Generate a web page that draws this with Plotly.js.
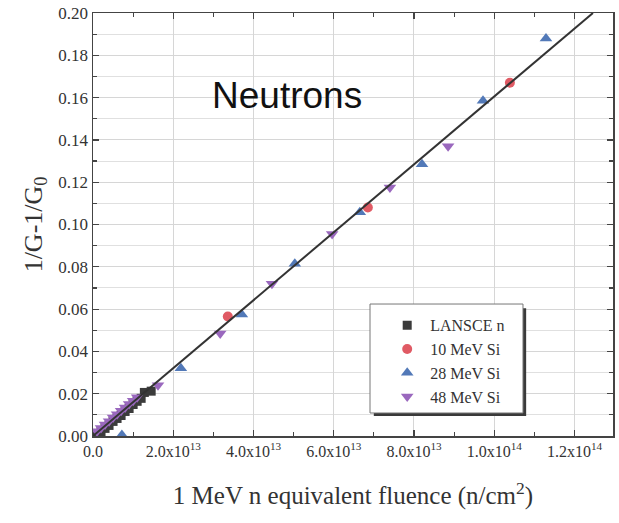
<!DOCTYPE html>
<html>
<head>
<meta charset="utf-8">
<script src="https://cdn.plot.ly/plotly-3.0.1.min.js"></script>
<style>html,body{margin:0;padding:0;background:#fff}</style>
</head>
<body>
<div id="chart" style="width:619px;height:523px"></div>
<script>
// 1 MeV neutron-equivalent fluence (n/cm^2) vs. 1/G - 1/G0

// LANSCE neutron beam
const lansceX = [0.10e13, 0.20e13, 0.30e13, 0.40e13, 0.50e13, 0.60e13, 0.70e13, 0.80e13, 0.90e13, 1.00e13, 1.10e13, 1.20e13, 1.28e13, 1.45e13];
const lansceY = [0.0007, 0.0021, 0.0036, 0.0050, 0.0069, 0.0083, 0.0097, 0.0116, 0.0130, 0.0149, 0.0164, 0.0178, 0.0206, 0.0212];

// 10 MeV Si ions
const si10X = [3.36e13, 6.85e13, 10.39e13];
const si10Y = [0.0565, 0.1080, 0.1670];

// 28 MeV Si ions
const si28X = [0.72e13, 2.19e13, 3.71e13, 5.03e13, 6.65e13, 8.20e13, 9.72e13, 11.29e13];
const si28Y = [0.0005, 0.0320, 0.0575, 0.0815, 0.1058, 0.1285, 0.1585, 0.1880];

// 48 MeV Si ions
const si48X = [0.10e13, 0.20e13, 0.30e13, 0.40e13, 0.50e13, 0.60e13, 0.70e13, 0.80e13, 0.90e13, 1.00e13, 1.10e13, 1.62e13, 3.17e13, 4.46e13, 5.96e13, 7.40e13, 8.85e13];
const si48Y = [0.0022, 0.0038, 0.0054, 0.0070, 0.0087, 0.0103, 0.0119, 0.0135, 0.0151, 0.0167, 0.0183, 0.0240, 0.0485, 0.0720, 0.0955, 0.1175, 0.1370];

// linear fit through all damage data
const fitX = [0, 1.246e14];
const fitY = [0, 0.20];

// axis tick labels
const xTickVals = [0, 2e13, 4e13, 6e13, 8e13, 1e14, 1.2e14];
const xTickText = ['0.0', '2.0x10<sup>13</sup>', '4.0x10<sup>13</sup>', '6.0x10<sup>13</sup>',
                   '8.0x10<sup>13</sup>', '1.0x10<sup>14</sup>', '1.2x10<sup>14</sup>'];

const serif = 'Liberation Serif, Times New Roman, serif';
const mk = (sym, col, size) => ({symbol: sym, color: col, size: size, line: {width: 0}});

const traces = [
  {x: lansceX, y: lansceY, type: 'scatter', mode: 'markers', name: 'LANSCE n',
   marker: mk('square', '#3b3b3b', 9)},
  {x: si10X, y: si10Y, type: 'scatter', mode: 'markers', name: '10 MeV Si',
   marker: mk('circle', '#e05a64', 10)},
  {x: si28X, y: si28Y, type: 'scatter', mode: 'markers', name: '28 MeV Si',
   marker: mk('triangle-up', '#5279b8', 11)},
  {x: si48X, y: si48Y, type: 'scatter', mode: 'markers', name: '48 MeV Si',
   marker: mk('triangle-down', '#9a68be', 11)},
  {x: fitX, y: fitY, type: 'scatter', mode: 'lines', showlegend: false,
   line: {color: '#333333', width: 2}, hoverinfo: 'skip'}
];

const layout = {
  width: 619, height: 523,
  margin: {l: 93, r: 6, t: 13, b: 87},
  paper_bgcolor: '#fff', plot_bgcolor: '#fff',
  showlegend: true,
  font: {family: serif, color: '#333', size: 16},
  xaxis: {
    range: [0, 1.296e14],
    tickmode: 'array', tickvals: xTickVals, ticktext: xTickText,
    ticks: 'inside', ticklen: 6, tickwidth: 1.2, tickcolor: '#444',
    showline: true, linecolor: '#444', linewidth: 1.5, mirror: 'ticks',
    showgrid: true, gridcolor: '#d6d6d6', gridwidth: 1,
    zeroline: false,
    tickfont: {family: serif, size: 16, color: '#333'},
    minor: {tickmode: 'array', tickvals: [1e13, 3e13, 5e13, 7e13, 9e13, 1.1e14],
            ticks: 'inside', ticklen: 4, tickcolor: '#444', showgrid: false},
    title: {text: '1 MeV n equivalent fluence (n/cm<sup>2</sup>)',
            font: {family: serif, size: 25, color: '#333'}, standoff: 28}
  },
  yaxis: {
    range: [0, 0.20], dtick: 0.02, tickformat: '.2f',
    ticks: 'inside', ticklen: 6, tickwidth: 1.2, tickcolor: '#444',
    showline: true, linecolor: '#444', linewidth: 1.5, mirror: 'ticks',
    showgrid: true, gridcolor: '#d6d6d6', gridwidth: 1,
    zeroline: false,
    tickfont: {family: serif, size: 17, color: '#333'},
    minor: {dtick: 0.01, ticks: 'inside', ticklen: 4, tickcolor: '#444',
            showgrid: true, gridcolor: '#e0e0e0', gridwidth: 1},
    title: {text: '1/G-1/G<sub>0</sub>', font: {family: serif, size: 26, color: '#333'}, standoff: 8}
  },
  legend: {
    x: 0.56, xanchor: 'left', y: 0.302, yanchor: 'top',
    bgcolor: 'rgba(0,0,0,0)', borderwidth: 0,
    font: {family: serif, size: 16, color: '#333'},
    itemwidth: 36, tracegroupgap: 0
  },
  shapes: [
    // legend drop shadow
    {type: 'rect', xref: 'paper', yref: 'paper', x0: 0.540, x1: 0.833, y0: 0.047, y1: 0.302,
     fillcolor: '#3a3a3a', line: {width: 0}, layer: 'above'},
    // legend frame
    {type: 'rect', xref: 'paper', yref: 'paper', x0: 0.5327, x1: 0.8269, y0: 0.0544, y1: 0.312,
     fillcolor: '#ffffff', line: {color: '#777', width: 1}, layer: 'above'}
  ],
  annotations: [
    {text: 'Neutrons', xref: 'paper', yref: 'paper', x: 0.373, y: 0.804,
     xanchor: 'center', yanchor: 'middle', showarrow: false,
     font: {family: 'Liberation Sans, Arial, sans-serif', size: 37, color: '#111'}}
  ]
};

Plotly.newPlot('chart', traces, layout, {displayModeBar: false, staticPlot: true});
</script>
</body>
</html>
